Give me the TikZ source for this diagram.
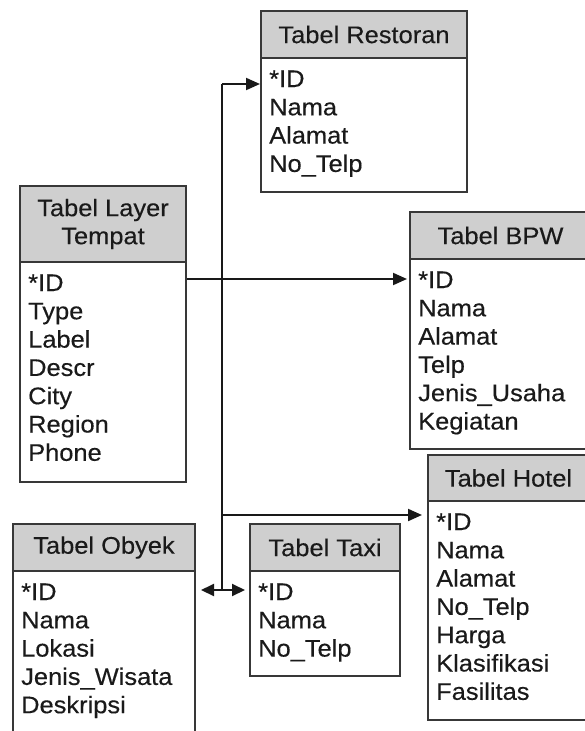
\documentclass[tikz,border=0pt]{standalone}
\usepackage{fontspec}
\setmainfont{Liberation Sans}[FakeStretch=1.06,FakeBold=0.3]
\usetikzlibrary{arrows.meta,calc}
\definecolor{hdrgray}{HTML}{CFCFCF}
\definecolor{edgegray}{HTML}{383838}
\definecolor{inkgray}{HTML}{1A1A1A}
\tikzset{
  tblfont/.style={font=\fontsize{24}{28}\selectfont, text=inkgray},
  hdrbox/.style={tblfont, draw=edgegray, line width=2pt, fill=hdrgray, align=center, inner sep=0pt, anchor=north west},
  bodybox/.style={draw=edgegray, line width=2pt, fill=white, inner sep=0pt, anchor=north west},
  rowtext/.style={tblfont, inner sep=0pt, anchor=base west},
  conn/.style={draw=black!90, line width=2pt},
  arr/.style={conn, -{Triangle[length=14pt,width=12pt]}},
  arrboth/.style={conn, {Triangle[length=13pt,width=12pt]}-{Triangle[length=13pt,width=12pt]}}
}
% #1 name, #2 left, #3 right, #4 top, #5 header bottom, #6 bottom, #7 title, #8 rows
\newcommand{\erdtable}[8]{%
  \node[hdrbox, minimum width={(#3)-(#2)}, minimum height={(#5)-(#4)}] (#1-h) at (#2,#4) {#7};
  \node[bodybox, minimum width={(#3)-(#2)}, minimum height={(#6)-(#5)}] (#1) at (#2,#5) {};
  \foreach \t [count=\i] in {#8} {
    \node[rowtext] (#1-r\i) at ($(#1.north west)+(9,{30+28.3*(\i-1)})$) {\t};
  }%
}
\begin{document}
\begin{tikzpicture}[x=1pt,y=-1pt]
\useasboundingbox (0,0) rectangle (585,731);
\clip (0,0) rectangle (585,731);
\fill[white] (0,0) rectangle (585,731);

\erdtable{res}{260}{466}{10}{57}{191}{Tabel Restoran}{*ID,Nama,Alamat,No\_Telp}
\erdtable{lay}{19}{185}{185}{261}{481}{Tabel Layer\\Tempat}{*ID,Type,Label,Descr,City,Region,Phone}
\erdtable{bpw}{409}{590}{211}{258}{448}{Tabel BPW}{*ID,Nama,Alamat,Telp,Jenis\_Usaha,Kegiatan}
\erdtable{hot}{427}{588}{454}{500}{719}{Tabel Hotel}{*ID,Nama,Alamat,No\_Telp,Harga,Klasifikasi,Fasilitas}
\erdtable{oby}{12}{194}{523}{570}{745}{Tabel Obyek}{*ID,Nama,Lokasi,Jenis\_Wisata,Deskripsi}
\erdtable{taxi}{249}{399}{523}{570}{675}{Tabel Taxi}{*ID,Nama,No\_Telp}

% connectors
\coordinate (jlay) at (0,279);
\draw[arr, shorten >=2pt] (jlay -| lay.east) -- (jlay -| bpw.west);

\coordinate (jtop) at (222,84);
\coordinate (jhot) at (222,515);
\coordinate (jbot) at (222,590);
\draw[conn] (jtop) -- (jbot);
\draw[arr] (jtop) -- (jtop -| res.west);
\draw[arr, shorten >=5pt] (jhot) -- (jhot -| hot.west);
\coordinate (dl) at (201,590);
\coordinate (dr) at (245,590);
\draw[arrboth] (dl) -- (dr);
\end{tikzpicture}
\end{document}
